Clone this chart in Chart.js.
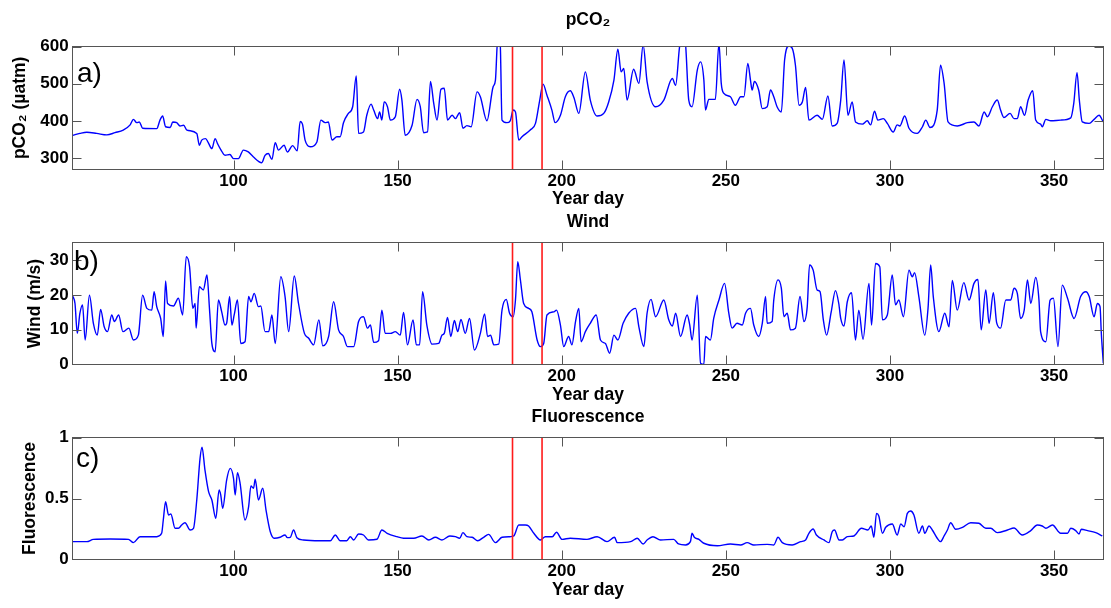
<!DOCTYPE html>
<html>
<head>
<meta charset="utf-8">
<script src="https://cdn.jsdelivr.net/npm/chart.js@4.4.1/dist/chart.umd.min.js"></script>
<style>
  html, body { margin: 0; padding: 0; background: #fff; }
  #wrap { position: relative; width: 1111px; height: 608px; }
  #wrap canvas { position: absolute; left: 0; top: 0; }
</style>
</head>
<body>
<div id="wrap">
  <canvas id="pco2Chart" width="1111" height="608"></canvas>
  <canvas id="windChart" width="1111" height="608"></canvas>
  <canvas id="fluoChart" width="1111" height="608"></canvas>
</div>
<script>
// Sumbu x bersama (hari dalam tahun)
const dayRange = [51, 365];
const dayTicks = [100, 150, 200, 250, 300, 350];
const eventDays = [185, 194];

// a) pCO2
const pco2Range = [270, 600];
const pco2Ticks = [300, 400, 500, 600];
const pco2Days = [51, 53.2, 55.3, 58.3, 61.4, 63.9, 66.4, 68.5, 69.5, 70.5, 71.3, 72.3, 76.6, 77.6, 78.4, 79.3, 80.7, 81.5, 82.7, 83.7,
  84.8, 85.8, 88.8, 89.6, 90.3, 91.5, 92.3, 93.4, 94.4, 95.1, 96.2, 97.4, 98.9, 100, 101.5, 103, 104.5, 106, 108.6, 109.6,
  110.6, 111.7, 112.7, 113.7, 115.4, 116.4, 118, 119.4, 120.3, 121, 121.8, 123.4, 125.4, 126.6, 127.9, 128.9, 130, 131.5, 132.5, 133.5,
  135, 136.3, 137.4, 138.1, 139.6, 140.6, 141.9, 142.7, 143.9, 144.5, 145.2, 145.9, 146.9, 147.8, 149.3, 150.6, 151.3, 152.3, 154.4, 155.9,
  156.9, 157.9, 159.1, 160, 161, 162, 163.2, 164.2, 165.2, 166.6, 167.6, 168.9, 169.9, 171.1, 172.4, 174.2, 175.2, 177.2, 179.1, 179.8,
  180.3, 180.8, 181.3, 181.8, 183.3, 184.3, 185.2, 185.9, 186.9, 187.9, 190.4, 192, 193.3, 194.3, 195.5, 197, 198, 199.6, 201.1, 202.6,
  203.7, 205.2, 207.2, 208.7, 210.8, 212.8, 214.3, 215.9, 217.1, 218.1, 218.9, 219.9, 221.9, 223.5, 224.8, 226, 228.6, 231.1, 233.7, 234.7,
  235.9, 236.8, 237.7, 238.7, 239.7, 241.3, 242.3, 243.3, 243.8, 244.8, 246.8, 247.9, 248.6, 249.4, 251.4, 252.9, 254.5, 255.5, 256.7, 257.5,
  258, 258.7, 260, 261.1, 262.6, 263.6, 264.6, 265.6, 266.9, 267.9, 269.2, 270.2, 271.2, 272.3, 273.3, 274.3, 275.3, 277.8, 279.4, 281.1,
  282.4, 283.9, 285, 286, 287.2, 288.5, 289.5, 291.6, 293.1, 294.1, 295.3, 296.3, 298, 299.2, 301, 302.2, 303, 304.5, 305.8, 308.3,
  309.9, 310.9, 312.2, 314.4, 315.4, 316.5, 317.7, 320.5, 323.6, 325.6, 327.1, 328.7, 329.7, 331.2, 332.7, 333.7, 334.7, 336.6, 337.8, 338.8,
  339.8, 341, 342.1, 343.5, 344.4, 345.9, 346.4, 347.5, 349, 352, 355.1, 356, 357, 357.7, 358.6, 360.7, 362.2, 363.7, 365];
const pco2Values = [361, 366, 369, 366, 362, 368, 375, 389, 404, 395, 397, 380, 379, 402, 413, 384, 382, 397, 395, 386,
  388, 375, 366, 334, 348, 352, 341, 325, 352, 339, 321, 307, 309, 298, 298, 321, 316, 303, 287, 307,
  312, 296, 341, 321, 334, 316, 333, 319, 398, 391, 348, 330, 343, 402, 395, 397, 348, 357, 357, 395,
  420, 438, 521, 366, 370, 415, 445, 429, 406, 424, 402, 451, 438, 402, 411, 485, 456, 361, 388, 458,
  438, 368, 370, 506, 447, 402, 485, 488, 402, 415, 406, 422, 380, 387, 384, 478, 465, 400, 492, 510,
  600, 650, 600, 402, 395, 400, 429, 424, 348, 357, 375, 393, 456, 499, 469, 429, 395, 415, 465, 481,
  463, 420, 532, 456, 413, 420, 451, 510, 593, 532, 541, 456, 539, 501, 605, 506, 438, 456, 514, 496,
  600, 640, 610, 456, 438, 537, 559, 510, 429, 458, 458, 610, 501, 474, 465, 442, 465, 465, 555, 510,
  483, 506, 483, 433, 438, 483, 465, 438, 424, 564, 602, 596, 550, 442, 451, 490, 402, 415, 404, 467,
  386, 393, 456, 564, 415, 451, 397, 391, 400, 389, 426, 402, 406, 393, 370, 389, 386, 413, 380, 366,
  384, 402, 382, 429, 550, 501, 397, 386, 395, 397, 386, 424, 411, 438, 456, 429, 409, 420, 406, 406,
  438, 415, 456, 481, 402, 391, 384, 404, 400, 402, 408, 447, 530, 456, 397, 393, 404, 415, 397];

// b) Angin
const windRange = [0, 35];
const windTicks = [0, 10, 20, 30];
const windDays = [51, 51.7, 52.4, 53.2, 54, 54.8, 56.1, 57.3, 58.5, 59.5, 60.6, 61.6, 62.9, 63.7, 65, 66.3, 68.1, 69.5, 71, 72.3,
  73.6, 75.1, 75.8, 76.6, 77.8, 78.6, 79.3, 79.9, 81.7, 83.2, 84.5, 85.6, 86.6, 87.6, 88.3, 88.6, 89.6, 90.8, 91.9, 92.7,
  93.4, 94.4, 95.4, 96.4, 97.4, 97.9, 98.8, 99.5, 100.2, 101.2, 102.2, 103.5, 104.6, 105.3, 106.3, 107.6, 108.3, 109.6, 110.7, 111.7,
  112.7, 114.4, 115.7, 116.8, 118.5, 119.8, 121.6, 122.9, 124.4, 126, 127.2, 129, 130.5, 132, 133.5, 134.7, 136.6, 138.1, 139.6, 140.8,
  141.7, 142.7, 144.2, 145.2, 146.2, 147.8, 149.3, 150.8, 151.8, 153, 154.7, 155.7, 156.7, 157.6, 158.9, 160.5, 162.5, 163.5, 164.2, 165.2,
  166.2, 167.3, 168.3, 169.3, 170.6, 171.9, 173.4, 175.2, 176.5, 177.4, 178.3, 179.3, 180.8, 181.8, 183.1, 184.1, 185.2, 185.9, 186.6, 187.4,
  188.4, 189.9, 190.9, 192.5, 193.5, 194.5, 195.5, 197.6, 198.4, 199.6, 200.6, 202.1, 203.1, 204.2, 205.2, 205.9, 207.2, 208.7, 210.5, 211.8,
  213.3, 214.6, 215.9, 217.1, 218.7, 220.4, 222.5, 223.5, 225, 226, 227.2, 228.6, 231.1, 232.6, 233.7, 234.7, 236.2, 238.2, 239, 239.7,
  241.3, 242.3, 243.3, 243.8, 245.3, 246.3, 247.9, 249.6, 250.9, 251.9, 253.4, 255, 256, 257.5, 258.5, 260, 261.1, 262.1, 262.6, 264.1,
  264.6, 265.9, 266.9, 267.7, 268.7, 269.7, 271.2, 272.6, 273.8, 274.8, 275.5, 276.6, 277.8, 278.7, 279.7, 280.7, 282.1, 283.4, 284.4, 285,
  286, 287, 288.3, 289.5, 290.5, 291.8, 293.6, 294.4, 295.6, 296.9, 297.7, 299.2, 300.7, 301.7, 302.7, 304.1, 305.8, 306.8, 307.5, 308.8,
  310.6, 311.6, 312.4, 313.2, 314.9, 316.7, 318, 319, 320.5, 322.5, 324.1, 325.6, 326.8, 327.8, 329.2, 330.2, 331.5, 332.5, 333.7, 335.3,
  336.8, 337.8, 338.8, 339.8, 340.9, 341.9, 342.9, 344.4, 345.4, 345.9, 347.5, 348.8, 349.8, 351.2, 352.5, 354.1, 356.1, 358.1, 359.7, 360.7,
  362.2, 363.2, 364, 364.4, 365];
const windValues = [19.7, 17.5, 8.9, 14.7, 17.1, 7.0, 19.9, 11.8, 8.4, 15.8, 10.8, 9.4, 14.2, 12.3, 14.2, 9.4, 10.4, 7.0, 8.4, 19.9,
  16.1, 15.6, 20.9, 16.6, 13.2, 8.0, 24.0, 17.5, 16.8, 19.0, 14.2, 31.0, 28.1, 16.1, 17.5, 10.4, 22.3, 21.4, 25.7, 15.6,
  6.0, 3.6, 18.5, 15.1, 11.3, 11.8, 19.5, 11.3, 14.2, 18.5, 6.0, 6.5, 19.5, 18.0, 20.4, 16.6, 16.8, 9.4, 9.4, 14.2,
  6.0, 25.2, 19.5, 9.4, 25.4, 17.5, 8.9, 7.5, 5.6, 12.8, 5.3, 8.1, 18.0, 9.9, 8.0, 5.1, 5.1, 12.3, 13.7, 10.4,
  11.3, 6.3, 6.8, 15.6, 8.9, 8.9, 9.4, 8.4, 14.9, 5.6, 12.8, 5.6, 5.6, 20.9, 11.3, 5.8, 6.0, 8.4, 8.9, 13.5,
  8.0, 12.6, 9.4, 12.9, 8.9, 13.2, 4.1, 8.9, 14.5, 8.0, 8.4, 5.6, 5.8, 15.6, 18.7, 14.7, 13.7, 18.5, 29.5, 24.3,
  17.5, 16.1, 15.1, 7.0, 5.1, 6.0, 14.2, 15.1, 15.6, 11.3, 5.1, 8.0, 5.6, 12.3, 16.1, 6.5, 9.4, 11.8, 14.2, 7.0,
  6.0, 3.2, 8.4, 7.0, 11.8, 14.7, 16.1, 10.8, 5.1, 14.7, 18.7, 13.7, 18.5, 12.8, 11.0, 14.7, 8.0, 14.2, 11.3, 7.0,
  19.9, 0.3, 0, 8.0, 7.0, 13.2, 18.5, 23.3, 14.7, 10.4, 11.8, 11.3, 14.7, 16.1, 11.3, 8.0, 11.8, 19.5, 11.8, 12.3,
  18.5, 24.3, 21.9, 13.7, 14.7, 9.9, 10.4, 19.5, 12.3, 16.6, 28.6, 27.1, 21.4, 20.9, 12.8, 8.4, 15.1, 21.2, 17.5, 13.2,
  11.0, 18.0, 20.6, 7.0, 15.6, 7.2, 23.3, 11.3, 29.0, 28.1, 12.8, 14.2, 25.7, 17.1, 18.5, 13.7, 27.1, 25.2, 26.4, 19.5,
  8.4, 16.1, 28.6, 19.5, 9.4, 14.7, 10.8, 24.1, 15.6, 23.5, 18.5, 23.3, 24.4, 9.9, 21.4, 11.8, 20.6, 12.0, 10.4, 18.5,
  18.5, 21.9, 20.4, 13.2, 15.6, 24.3, 17.5, 25.0, 18.5, 9.4, 6.5, 18.5, 19.0, 5.1, 22.8, 19.0, 13.2, 19.5, 20.9, 19.5,
  13.7, 17.5, 16.6, 8.9, 0.3];

// c) Fluoresensi
const fluoRange = [0, 1];
const fluoTicks = [0, 0.5, 1];
const fluoDays = [51, 55.3, 57.3, 62.4, 68, 69.5, 71.5, 76.6, 78.1, 78.6, 79.3, 80.2, 80.9, 82.2, 83.2, 84.2, 85.2, 86.8, 87.8, 88.8,
  89.8, 90.4, 91.3, 92.4, 93.4, 94.6, 95.6, 96.1, 96.7, 97.9, 99, 100, 100.5, 101.2, 102, 103.5, 104.6, 105.3, 106.1, 106.6,
  107.6, 108.9, 109.9, 111.2, 112.4, 114.2, 115.7, 116.4, 117.3, 118.3, 119.3, 121.3, 126.4, 129.5, 131, 132.5, 134.5, 135.6, 136.6, 138.1,
  139.6, 141.1, 143.7, 145.2, 146.8, 149.8, 151.8, 154.9, 157.4, 159.5, 161.5, 163.5, 165.9, 167.6, 168.9, 169.9, 171.1, 172.7, 174.4, 176.2,
  177.7, 179.8, 181.8, 184.3, 185.4, 186.9, 188.9, 189.9, 191.5, 193.5, 195, 197.1, 198.4, 200.1, 202.6, 207.7, 210.8, 213.8, 216.1, 216.9,
  221, 223, 224.8, 226, 227.8, 230.1, 234.1, 235.6, 237.7, 239.2, 239.7, 240.4, 241.8, 243.3, 247.4, 251.4, 254.5, 256.5, 258.5, 262.6,
  264.6, 265.9, 267.2, 270.2, 272.8, 274.3, 275.3, 276.6, 277.6, 279.9, 281.4, 282.4, 283.1, 284.5, 285.5, 287, 289, 291.3, 293.3, 294.3,
  295.1, 295.9, 296.6, 297.7, 298.7, 300.7, 302.2, 303.3, 304.3, 305.3, 306.3, 307.3, 308.8, 309.9, 310.6, 311.9, 312.9, 314.4, 315.4, 316.5,
  317.5, 318.5, 320, 322.1, 324.6, 327.1, 329.2, 330.7, 332.7, 335.8, 337.8, 340.3, 342.9, 344.9, 346.4, 347.5, 349.5, 352, 354.1, 355.1,
  356.6, 357.6, 358.3, 360.2, 362.7, 364.7];
const fluoValues = [0.145, 0.145, 0.164, 0.167, 0.164, 0.137, 0.186, 0.186, 0.214, 0.323, 0.474, 0.364, 0.373, 0.255, 0.255, 0.282, 0.301, 0.241, 0.255, 0.488,
  0.83, 0.921, 0.734, 0.556, 0.488, 0.337, 0.57, 0.529, 0.419, 0.652, 0.748, 0.666, 0.529, 0.712, 0.625, 0.323, 0.433, 0.603, 0.584, 0.658,
  0.488, 0.584, 0.405, 0.227, 0.173, 0.181, 0.2, 0.178, 0.181, 0.241, 0.178, 0.159, 0.153, 0.153, 0.2, 0.153, 0.153, 0.186, 0.159, 0.208,
  0.2, 0.159, 0.165, 0.241, 0.214, 0.186, 0.173, 0.173, 0.192, 0.159, 0.181, 0.159, 0.192, 0.186, 0.173, 0.219, 0.186, 0.181, 0.153, 0.181,
  0.205, 0.137, 0.181, 0.186, 0.192, 0.282, 0.282, 0.274, 0.214, 0.159, 0.186, 0.186, 0.222, 0.164, 0.173, 0.164, 0.186, 0.145, 0.181, 0.137,
  0.145, 0.173, 0.126, 0.159, 0.186, 0.159, 0.164, 0.126, 0.118, 0.145, 0.214, 0.181, 0.164, 0.132, 0.112, 0.126, 0.118, 0.137, 0.118, 0.123,
  0.118, 0.181, 0.137, 0.118, 0.145, 0.159, 0.214, 0.249, 0.2, 0.159, 0.137, 0.227, 0.241, 0.159, 0.159, 0.186, 0.192, 0.255, 0.241, 0.274,
  0.181, 0.378, 0.356, 0.214, 0.263, 0.29, 0.2, 0.29, 0.268, 0.378, 0.397, 0.364, 0.214, 0.274, 0.214, 0.274, 0.241, 0.173, 0.145, 0.192,
  0.241, 0.301, 0.247, 0.263, 0.301, 0.296, 0.255, 0.255, 0.219, 0.241, 0.258, 0.2, 0.236, 0.282, 0.274, 0.255, 0.282, 0.214, 0.214, 0.255,
  0.236, 0.208, 0.247, 0.236, 0.219, 0.192];

// Gaya umum
const FONT = '"Liberation Sans", Arial, Helvetica, sans-serif';
const BOX_COLOR = '#555555';
const TICK_LEN = 9;
Chart.defaults.font.family = FONT;
Chart.defaults.color = '#000';

// Plugin: kotak sumbu + tick ke dalam di keempat sisi + huruf panel
const framePlugin = {
  id: 'frame',
  afterDatasetsDraw(chart, args, opts) {
    const { ctx, chartArea: area, scales } = chart;
    const left = Math.floor(area.left) + 0.5;
    const right = Math.floor(area.right) + 0.5;
    const top = Math.floor(area.top) + 0.5;
    const bottom = Math.floor(area.bottom) + 0.5;

    ctx.save();
    ctx.strokeStyle = BOX_COLOR;
    ctx.lineWidth = 1;
    ctx.strokeRect(left, top, right - left, bottom - top);

    ctx.beginPath();
    opts.xTicks.forEach(v => {
      const px = Math.round(scales.x.getPixelForValue(v)) + 0.5;
      ctx.moveTo(px, bottom); ctx.lineTo(px, bottom - TICK_LEN);
      ctx.moveTo(px, top); ctx.lineTo(px, top + TICK_LEN);
    });
    opts.yTicks.forEach(v => {
      const py = Math.round(scales.y.getPixelForValue(v)) + 0.5;
      ctx.moveTo(left, py); ctx.lineTo(left + TICK_LEN, py);
      ctx.moveTo(right, py); ctx.lineTo(right - TICK_LEN, py);
    });
    ctx.stroke();

    // huruf panel a), b), c)
    ctx.fillStyle = '#000';
    ctx.font = '28px ' + FONT;
    ctx.textBaseline = 'alphabetic';
    ctx.textAlign = 'left';
    ctx.fillText(opts.letter, area.left + opts.letterDx, area.top + opts.letterDy);
    ctx.restore();
  }
};

function toPoints(days, values) {
  return days.map((d, i) => ({ x: d, y: values[i] }));
}

// Membuat satu panel (posisi diatur lewat padding layout, semua kanvas menumpuk)
function makePanel(id, cfg) {
  const eventSets = eventDays.map(d => ({
    data: [{ x: d, y: cfg.range[0] }, { x: d, y: cfg.range[1] }],
    borderColor: '#ff1a1a',
    borderWidth: 1.6,
    pointRadius: 0
  }));

  return new Chart(document.getElementById(id), {
    type: 'line',
    data: {
      datasets: [
        ...eventSets,
        {
          data: toPoints(cfg.days, cfg.values),
          borderColor: '#0000ff',
          borderWidth: 1.4,
          pointRadius: 0,
          cubicInterpolationMode: 'monotone' // sudut dibulatkan seperti aslinya
        }
      ]
    },
    options: {
      responsive: false,
      animation: false,
      devicePixelRatio: 1,
      events: [],
      layout: { padding: { left: cfg.padLeft, right: 7.7, top: cfg.padTop, bottom: cfg.padBottom } },
      plugins: {
        legend: { display: false },
        tooltip: { enabled: false },
        title: {
          display: true,
          text: cfg.title,
          fullSize: false,
          color: '#000',
          font: { size: 17.5, weight: 'bold' },
          padding: { top: cfg.titleTop, bottom: cfg.titleBottom }
        },
        frame: { xTicks: dayTicks, yTicks: cfg.ticks, letter: cfg.letter, letterDx: cfg.letterDx, letterDy: cfg.letterDy }
      },
      scales: {
        x: {
          type: 'linear',
          min: dayRange[0],
          max: dayRange[1],
          afterBuildTicks: s => { s.ticks = dayTicks.map(v => ({ value: v })); },
          afterFit: s => { s.height = 41.1; },
          grid: { display: false, drawTicks: false },
          border: { display: false },
          ticks: { padding: 2, maxRotation: 0, autoSkip: false, color: '#000', font: { size: 17, weight: 'bold' }, callback: v => String(v) },
          title: { display: true, text: 'Year day', color: '#000', padding: 0, font: { size: 17.5, weight: 'bold' } }
        },
        y: {
          min: cfg.range[0],
          max: cfg.range[1],
          afterBuildTicks: s => { s.ticks = cfg.ticks.map(v => ({ value: v })); },
          afterFit: s => { s.width = 72.7 - cfg.padLeft; },
          grid: { display: false, drawTicks: false },
          border: { display: false },
          ticks: { padding: 4, color: '#000', font: { size: 17, weight: 'bold' }, callback: v => String(v) },
          title: { display: true, text: cfg.yTitle, color: '#000', padding: 0, font: { size: 17.5, weight: 'bold' } }
        }
      }
    },
    plugins: [framePlugin]
  });
}

makePanel('pco2Chart', {
  days: pco2Days, values: pco2Values, range: pco2Range, ticks: pco2Ticks,
  title: 'pCO₂', yTitle: 'pCO₂ (µatm)', letter: 'a)',
  padLeft: 9.5, padTop: 0, padBottom: 397.9, titleTop: 9.5, titleBottom: 16.2,
  letterDx: 4.3, letterDy: 35
});

makePanel('windChart', {
  days: windDays, values: windValues, range: windRange, ticks: windTicks,
  title: 'Wind', yTitle: 'Wind (m/s)', letter: 'b)',
  padLeft: 25, padTop: 200, padBottom: 202.6, titleTop: 11.2, titleBottom: 10.5,
  letterDx: 1.3, letterDy: 27.3
});

makePanel('fluoChart', {
  days: fluoDays, values: fluoValues, range: fluoRange, ticks: fluoTicks,
  title: 'Fluorescence', yTitle: 'Fluorescence', letter: 'c)',
  padLeft: 19.5, padTop: 400, padBottom: 7.6, titleTop: 6.5, titleBottom: 10.2,
  letterDx: 3.3, letterDy: 29
});
</script>
</body>
</html>
